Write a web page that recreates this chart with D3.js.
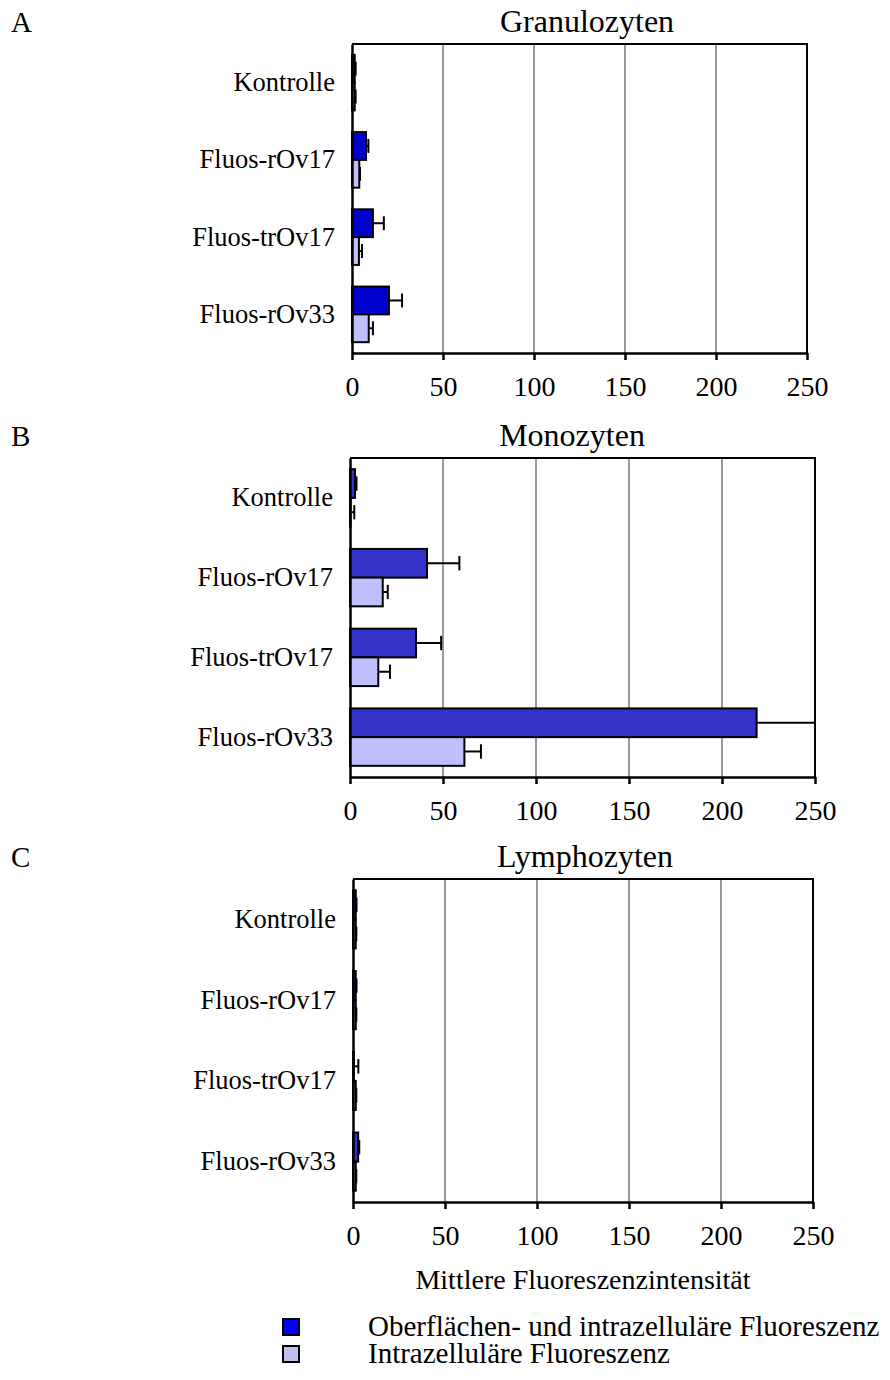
<!DOCTYPE html>
<html>
<head>
<meta charset="utf-8">
<script src="https://cdn.jsdelivr.net/npm/d3@7"></script>
<style>
  body { margin: 0; background: #fff; }
  svg { display: block; }
  text { font-family: "Liberation Serif", "Times New Roman", serif; fill: #000; }
</style>
</head>
<body>
<svg id="chart" width="890" height="1380"></svg>
<script>
// Categories, series and axis ticks
const categories = ["Kontrolle", "Fluos-rOv17", "Fluos-trOv17", "Fluos-rOv33"];
const seriesNames = ["Oberflächen- und intrazelluläre Fluoreszenz", "Intrazelluläre Fluoreszenz"];
const tickValues = [0, 50, 100, 150, 200, 250];
const axisTitle = "Mittlere Fluoreszenzintensität";

// Granulozyten: mean fluorescence and error (SD)
const granTotal    = [1.5, 7.7, 11.5, 20.3];
const granTotalErr = [0.5, 1.3, 6.0, 7.2];
const granIntra    = [1.5, 4.0, 3.8, 9.2];
const granIntraErr = [0.5, 0.4, 1.7, 2.3];

// Monozyten
const monoTotal    = [2.7, 41.4, 35.5, 218.6];
const monoTotalErr = [0.8, 17.4, 13.5, 40.0];
const monoIntra    = [0.3, 17.6, 15.2, 61.5];
const monoIntraErr = [2.0, 2.7, 6.3, 8.9];

// Lymphozyten
const lymTotal    = [1.5, 1.5, 0.5, 2.8];
const lymTotalErr = [0.4, 0.4, 2.4, 0.6];
const lymIntra    = [1.5, 1.5, 1.5, 1.5];
const lymIntraErr = [0.3, 0.3, 0.3, 0.3];

const panels = [
  { letter: "A", title: "Granulozyten", total: granTotal, totalErr: granTotalErr, intra: granIntra, intraErr: granIntraErr,
    top: 44, bottom: 353, left: 352, right: 807, titleX: 587, darkFill: "#0000cc" },
  { letter: "B", title: "Monozyten", total: monoTotal, totalErr: monoTotalErr, intra: monoIntra, intraErr: monoIntraErr,
    top: 458, bottom: 777, left: 350, right: 815, titleX: 572, darkFill: "#3333cc" },
  { letter: "C", title: "Lymphozyten", total: lymTotal, totalErr: lymTotalErr, intra: lymIntra, intraErr: lymIntraErr,
    top: 879, bottom: 1202, left: 353, right: 813, titleX: 585, darkFill: "#3333cc" }
];
const lightFill = "#c0c0ff";
const serif = "'Liberation Serif', 'Times New Roman', serif";

const svg = d3.select("#chart");

panels.forEach(p => {
  const g = svg.append("g");
  const x = d3.scaleLinear().domain([0, 250]).range([p.left, p.right]);
  const y = d3.scaleBand().domain(categories).range([p.top, p.bottom]);
  const barH = y.bandwidth() * 0.36;

  // panel letter and title
  g.append("text").attr("x", 11).attr("y", p.top - 12).attr("font-size", 29).text(p.letter);
  g.append("text").attr("x", p.titleX).attr("y", p.top - 12).attr("font-size", 32)
    .attr("text-anchor", "middle").text(p.title);

  // vertical gridlines
  g.selectAll("line.grid").data(tickValues.slice(1, -1)).enter().append("line")
    .attr("x1", d => x(d)).attr("x2", d => x(d))
    .attr("y1", p.top).attr("y2", p.bottom)
    .attr("stroke", "#999").attr("stroke-width", 2);

  // frame: top and right edges
  g.append("path")
    .attr("d", `M${p.left},${p.top}H${p.right}V${p.bottom}`)
    .attr("fill", "none").attr("stroke", "#000").attr("stroke-width", 2);

  const bars = categories.flatMap((c, i) => [
    { v: p.total[i], e: p.totalErr[i], fill: p.darkFill, y0: y(c) + y.bandwidth() / 2 - barH },
    { v: p.intra[i], e: p.intraErr[i], fill: lightFill, y0: y(c) + y.bandwidth() / 2 }
  ]);

  // bars
  g.selectAll("rect.bar").data(bars).enter().append("rect")
    .attr("x", x(0)).attr("y", d => d.y0)
    .attr("width", d => x(d.v) - x(0)).attr("height", barH)
    .attr("fill", d => d.fill).attr("stroke", "#000").attr("stroke-width", 2);

  // error bars (clipped at axis maximum)
  const eg = g.selectAll("g.err").data(bars).enter().append("g");
  eg.append("line")
    .attr("x1", d => x(d.v)).attr("x2", d => x(Math.min(d.v + d.e, 250)))
    .attr("y1", d => d.y0 + barH / 2).attr("y2", d => d.y0 + barH / 2)
    .attr("stroke", "#000").attr("stroke-width", 2);
  eg.filter(d => d.v + d.e <= 250).append("line")
    .attr("x1", d => x(d.v + d.e)).attr("x2", d => x(d.v + d.e))
    .attr("y1", d => d.y0 + barH / 2 - barH * 0.25).attr("y2", d => d.y0 + barH / 2 + barH * 0.25)
    .attr("stroke", "#000").attr("stroke-width", 2);

  // category axis
  const ya = g.append("g").attr("transform", `translate(${p.left},0)`)
    .call(d3.axisLeft(y).tickSize(0).tickPadding(17));
  ya.select(".domain").attr("stroke", "#000").attr("stroke-width", 2.5);
  ya.selectAll(".tick text").attr("font-size", 26.5).attr("font-family", serif).attr("fill", "#000");

  // value axis
  const xa = g.append("g").attr("transform", `translate(0,${p.bottom})`)
    .call(d3.axisBottom(x).tickValues(tickValues).tickFormat(d3.format("d"))
      .tickSize(7).tickSizeOuter(0).tickPadding(16));
  xa.select(".domain").attr("stroke", "#000").attr("stroke-width", 2.5);
  xa.selectAll(".tick line").attr("stroke", "#000").attr("stroke-width", 2.5);
  xa.selectAll(".tick text").attr("font-size", 28).attr("font-family", serif).attr("fill", "#000");
});

// shared value-axis title
svg.append("text").attr("x", 583).attr("y", 1289).attr("font-size", 28)
  .attr("text-anchor", "middle").text(axisTitle);

// legend
const legendFills = ["#0000ff", "#c0c0ee"];
const lg = svg.append("g").selectAll("g").data(seriesNames).enter().append("g")
  .attr("transform", (d, i) => `translate(0,${1336 + i * 27})`);
lg.append("rect").attr("x", 283).attr("y", -17).attr("width", 16).attr("height", 16)
  .attr("fill", (d, i) => legendFills[i]).attr("stroke", "#000").attr("stroke-width", 2);
lg.append("text").attr("x", 368).attr("y", 0).attr("font-size", 29).text(d => d);
</script>
</body>
</html>
